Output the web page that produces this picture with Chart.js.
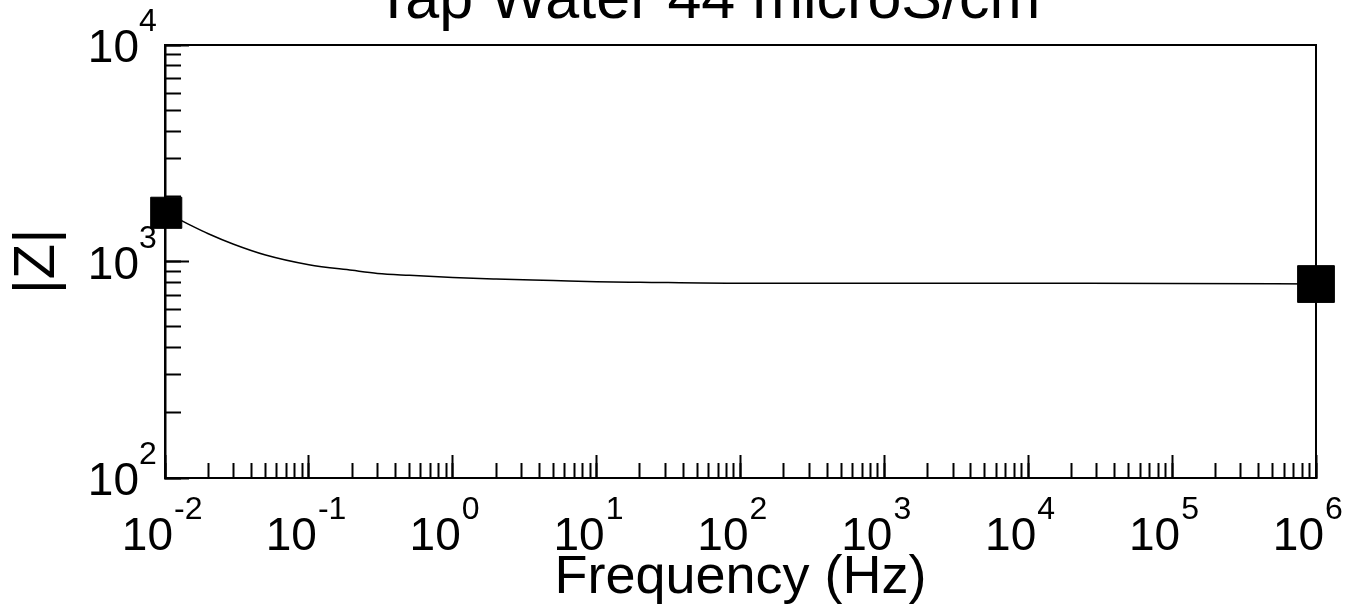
<!DOCTYPE html>
<html>
<head>
<meta charset="utf-8">
<title>Tap Water 44 microS/cm</title>
<script src="https://cdn.jsdelivr.net/npm/chart.js@4.4.1/dist/chart.umd.min.js"></script>
<style>
html, body { margin:0; padding:0; background:#fff; }
#wrap { width:1351px; height:613px; }
</style>
</head>
<body>
<div id="wrap"><canvas id="impedanceChart"></canvas></div>
<script>

// ================================
// DATA
// ================================

const frequency = [0.0102, 0.015, 0.02, 0.03, 0.05, 0.1, 0.2, 0.3, 0.5, 1, 2, 5, 10, 20, 100, 1000, 10000, 100000, 1000000];

const impedance = [1679, 1472, 1343, 1201, 1071, 966, 910, 881, 863, 843, 830, 817, 807, 802, 793, 793, 793, 792, 787];

const xExponents = [-2, -1, 0, 1, 2, 3, 4, 5, 6];

const yExponents = [2, 3, 4];

const titleText = 'Tap Water 44 microS/cm';
const xTitle = 'Frequency (Hz)';
const yTitle = '|Z|';


const FONT = 'Arial, "Liberation Sans", sans-serif';


// minor ticks 1..9 in every decade
function decadeTicks(exps){
  const out = [];
  for (let i = 0; i < exps.length - 1; i++) {
    for (let m = 1; m <= 9; m++) out.push(m * Math.pow(10, exps[i]));
  }
  out.push(Math.pow(10, exps[exps.length - 1]));
  return out;
}

function majorTicks(exps){
  return exps.map(function(e){ return Math.pow(10, e); });
}


// ================================
// 10^n TICK LABELS
// ================================

const powerLabels = {
  id: 'powerLabels',
  afterDraw(chart){
    const ctx = chart.ctx;
    const xs = chart.scales.x;
    const ys = chart.scales.y;
    const area = chart.chartArea;
    ctx.save();
    ctx.fillStyle = '#000';
    ctx.textBaseline = 'alphabetic';

    xExponents.forEach(function(e){
      const px = xs.getPixelForValue(Math.pow(10, e));
      ctx.font = '46px ' + FONT;
      ctx.textAlign = 'right';
      ctx.fillText('10', px + 8, area.bottom + 72);
      ctx.font = '32px ' + FONT;
      ctx.textAlign = 'left';
      ctx.fillText(String(e), px + 9, area.bottom + 41);
    });

    yExponents.forEach(function(e){
      const py = ys.getPixelForValue(Math.pow(10, e));
      ctx.font = '46px ' + FONT;
      ctx.textAlign = 'right';
      ctx.fillText('10', area.left - 26, py + 17);
      ctx.font = '32px ' + FONT;
      ctx.textAlign = 'left';
      ctx.fillText(String(e), area.left - 26, py - 14);
    });

    ctx.restore();
  }
};


// ================================
// IMPEDANCE CHART
// ================================

const impedanceChart = document.getElementById('impedanceChart');

const lastIndex = frequency.length - 1;

new Chart(impedanceChart, {

  type: 'line',

  data: {
    datasets: [{
      label: '|Z|',
      data: frequency.map(function(f, i){ return { x: f, y: impedance[i] }; }),
      borderColor: '#000',
      borderWidth: 1.5,
      backgroundColor: '#000',
      pointStyle: 'rect',
      pointRadius: function(c){
        if (c.dataIndex === 0) return 22;
        if (c.dataIndex === lastIndex) return 26;
        return 0;
      },
      pointBorderColor: '#000',
      pointBackgroundColor: '#000',
      pointBorderWidth: 1,
      cubicInterpolationMode: 'monotone',
      fill: false,
      clip: false
    }]
  },

  options: {
    responsive: true,
    maintainAspectRatio: false,
    animation: false,
    events: [],

    layout: {
      padding: { left: 64, right: 0, top: 0, bottom: 0 }
    },

    plugins: {
      legend: { display: false },
      tooltip: { enabled: false },
      title: {
        display: true,
        text: titleText,
        color: '#000',
        font: { family: FONT, size: 61, weight: 'normal', lineHeight: '2px' },
        padding: { top: 0, bottom: 0 }
      }
    },

    scales: {

      x: {
        type: 'logarithmic',
        position: 'bottom',
        weight: 1,
        min: 0.01,
        max: 1000000,
        afterBuildTicks: function(s){
          s.ticks = decadeTicks(xExponents).map(function(v){ return { value: v }; });
        },
        afterFit: function(s){ s.height = 135; },
        ticks: { display: false },
        grid: {
          drawOnChartArea: false,
          drawTicks: true,
          tickLength: -15,
          tickWidth: 2,
          tickColor: '#000'
        },
        border: { display: true, color: '#000', width: 2 },
        title: {
          display: true,
          text: xTitle,
          color: '#000',
          font: { family: FONT, size: 54, weight: 'normal' },
          padding: { top: 0, bottom: 2 }
        }
      },

      xMajor: {
        type: 'logarithmic',
        position: 'bottom',
        weight: 0,
        min: 0.01,
        max: 1000000,
        afterBuildTicks: function(s){
          s.ticks = majorTicks(xExponents).map(function(v){ return { value: v }; });
        },
        afterFit: function(s){ s.height = 0; },
        ticks: { display: false },
        grid: {
          drawOnChartArea: false,
          drawTicks: true,
          tickLength: -23,
          tickWidth: 2,
          tickColor: '#000'
        },
        border: { display: false }
      },

      x2: {
        type: 'linear',
        position: 'top',
        afterFit: function(s){ s.height = 43; },
        ticks: { display: false },
        grid: { display: false },
        border: { display: true, color: '#000', width: 2 }
      },

      y: {
        type: 'logarithmic',
        position: 'left',
        weight: 1,
        min: 100,
        max: 10000,
        afterBuildTicks: function(s){
          s.ticks = decadeTicks(yExponents).map(function(v){ return { value: v }; });
        },
        afterFit: function(s){ s.width = 101; },
        ticks: { display: false },
        grid: {
          drawOnChartArea: false,
          drawTicks: true,
          tickLength: -16,
          tickWidth: 2,
          tickColor: '#000'
        },
        border: { display: true, color: '#000', width: 2.5 },
        title: {
          display: true,
          text: yTitle,
          color: '#000',
          font: { family: FONT, size: 58, weight: 'normal', lineHeight: '2px' },
          padding: { top: -27, bottom: 0 }
        }
      },

      yMajor: {
        type: 'logarithmic',
        position: 'left',
        weight: 0,
        min: 100,
        max: 10000,
        afterBuildTicks: function(s){
          s.ticks = majorTicks(yExponents).map(function(v){ return { value: v }; });
        },
        afterFit: function(s){ s.width = 0; },
        ticks: { display: false },
        grid: {
          drawOnChartArea: false,
          drawTicks: true,
          tickLength: -24,
          tickWidth: 2,
          tickColor: '#000'
        },
        border: { display: false }
      },

      y2: {
        type: 'linear',
        position: 'right',
        afterFit: function(s){ s.width = 35; },
        ticks: { display: false },
        grid: { display: false },
        border: { display: true, color: '#000', width: 2 }
      }

    }
  },

  plugins: [powerLabels]

});

</script>
</body>
</html>
